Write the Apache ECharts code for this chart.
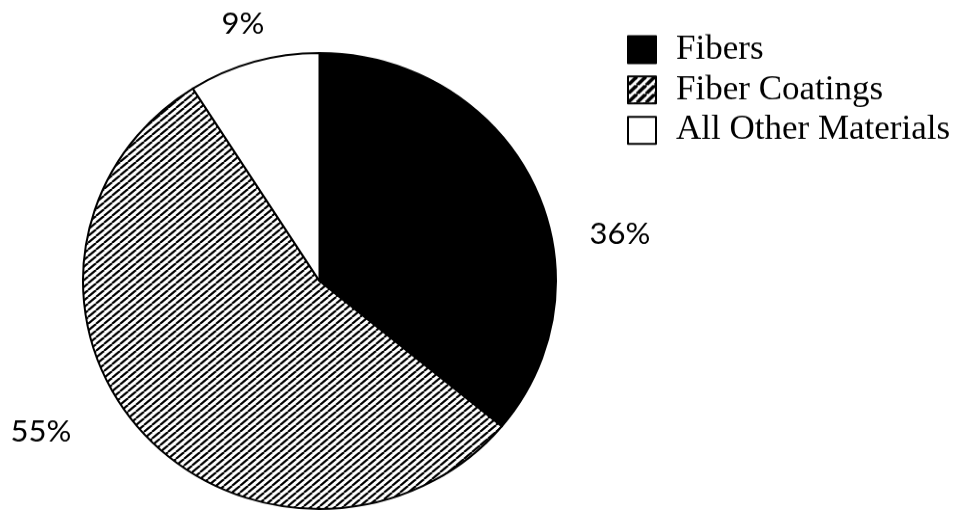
<!DOCTYPE html>
<html>
<head>
<meta charset="utf-8">
<script src="https://cdn.jsdelivr.net/npm/echarts@6/dist/echarts.min.js"></script>
<style>
  html, body { margin: 0; padding: 0; background: #fff; overflow: hidden; width: 968px; height: 513px; }
  #chart { position: absolute; left: 0; top: 0; width: 968px; height: 532px; transform: scaleY(0.964); transform-origin: 0 0; }
</style>
</head>
<body>
<div id="chart"></div>
<script>
// ---- data ----
const categories = ['Fibers', 'Fiber Coatings', 'All Other Materials'];
const shares = [36, 55, 9];

// ---- layout / style (not data) ----
const SY = 0.964; // vertical squash of the scanned original
const labelPos = [[620, 234], [41, 432], [243, 24]];

function hatchTile(w, h, lw) {
  const c = document.createElement('canvas');
  c.width = w; c.height = h;
  const ctx = c.getContext('2d');
  ctx.fillStyle = '#fff';
  ctx.fillRect(0, 0, w, h);
  ctx.strokeStyle = '#000';
  ctx.lineWidth = lw;
  for (const off of [-w, 0, w]) {
    ctx.beginPath();
    ctx.moveTo(off, h);
    ctx.lineTo(off + w, 0);
    ctx.stroke();
  }
  return c;
}
const pieHatch = { image: hatchTile(8, 7, 2.2), repeat: 'repeat' };
const legendHatch = { image: hatchTile(9, 9, 3.6), repeat: 'repeat' };
const fills = ['#000', pieHatch, '#fff'];
const legendFills = ['#000', legendHatch, '#fff'];

const chart = echarts.init(document.getElementById('chart'), null, { renderer: 'canvas' });
chart.setOption({
  animation: false,
  backgroundColor: '#fff',
  legend: {
    orient: 'vertical',
    left: 622,
    top: 28 / SY,
    itemWidth: 28,
    itemHeight: 28,
    itemGap: 6.8,
    icon: 'rect',
    selectedMode: false,
    textStyle: {
      fontFamily: 'Liberation Serif',
      fontSize: 35,
      color: '#000',
      lineHeight: 28,
      padding: [0, 0, 0, 15]
    },
    data: categories.map((name, i) => ({
      name,
      itemStyle: { color: legendFills[i], borderColor: '#000', borderWidth: 2 }
    }))
  },
  series: [{
    type: 'pie',
    center: [319.5, 281 / SY],
    radius: [0, 236.5],
    startAngle: 90,
    clockwise: true,
    silent: true,
    itemStyle: { borderColor: '#000', borderWidth: 2 },
    label: {
      show: true,
      position: 'outside',
      formatter: '{c}%',
      fontFamily: 'Lato',
      fontSize: 31,
      color: '#000'
    },
    labelLine: { show: false },
    labelLayout: function (params) {
      const p = labelPos[params.dataIndex];
      return { x: p[0], y: p[1] / SY, align: 'center', verticalAlign: 'middle' };
    },
    data: categories.map((name, i) => ({
      name,
      value: shares[i],
      itemStyle: { color: fills[i] }
    }))
  }]
});
</script>
</body>
</html>
